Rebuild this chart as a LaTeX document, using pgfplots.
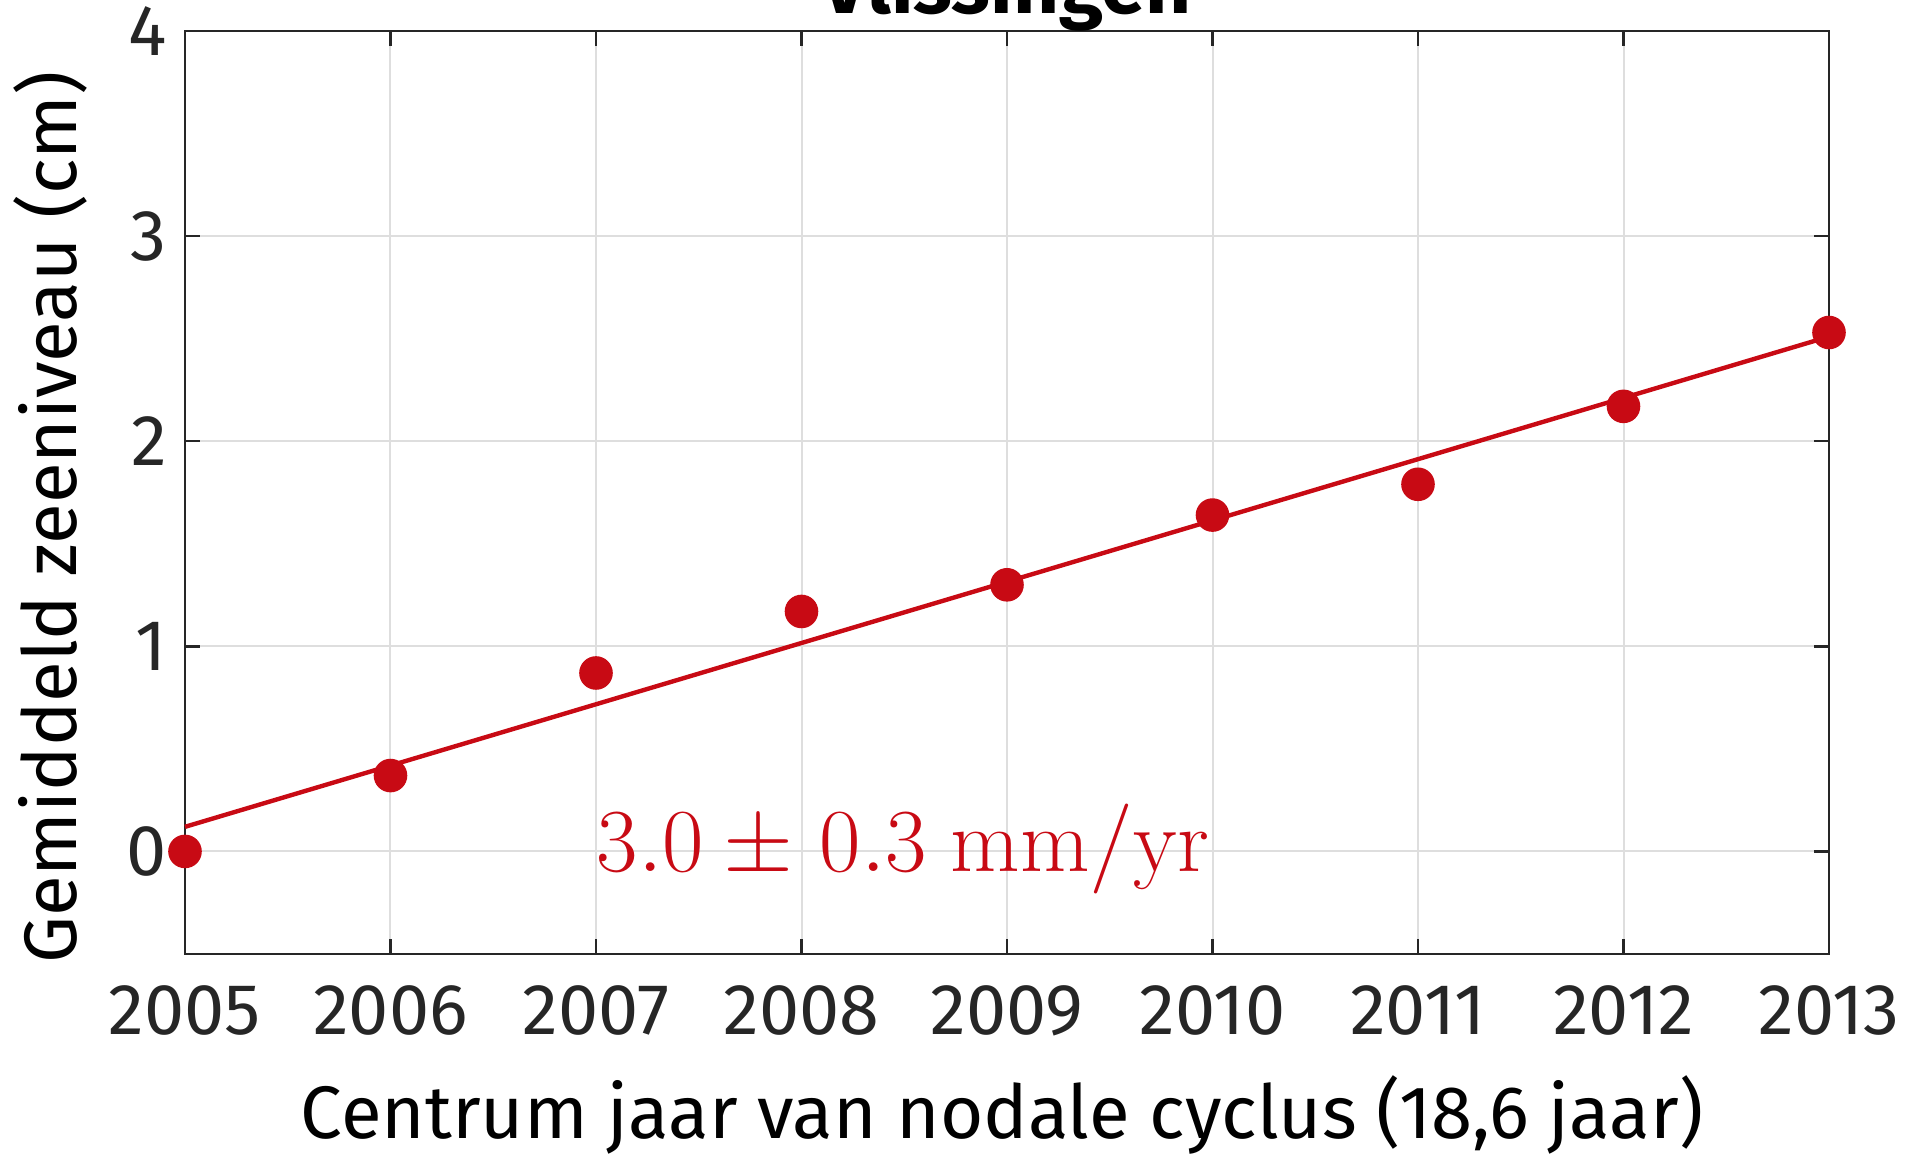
\RequirePackage{fix-cm}
\documentclass[border=0pt]{standalone}
\usepackage[no-math]{fontspec}
\setmainfont{Fira Sans}
\usepackage{pgfplots}
\pgfplotsset{compat=1.18}
\usetikzlibrary{calc}
\definecolor{myred}{HTML}{C80A14}
\definecolor{axgray}{HTML}{262626}
\begin{document}
\begin{tikzpicture}
\begin{axis}[
  scale only axis, width=411pt, height=230.75pt,
  xmin=2005, xmax=2013, ymin=-0.5, ymax=4,
  xtick={2005,2006,2007,2008,2009,2010,2011,2012,2013},
  ytick={0,1,2,3,4},
  /pgf/number format/.cd, 1000 sep={}, assume math mode=true, /pgfplots/.cd,
  grid=major, major grid style={color=black!13, line width=0.5pt},
  tick align=inside, major tick length=3.7pt,
  axis line style={axgray, line width=0.6pt},
  tick style={axgray, line width=0.6pt},
  ticklabel style={font=\fontsize{18}{21}\selectfont, text=axgray},
  xticklabel style={anchor=base, yshift=-20.25pt},
  yticklabel style={xshift=-1pt},
  xlabel={Centrum jaar van nodale cyclus (18,6 jaar)},
  ylabel={Gemiddeld zeeniveau (cm)},
  label style={font=\fontsize{18.6}{22}\selectfont, text=black},
  xlabel style={at={(axis description cs:0.497,-0.2004)}, anchor=base},
  ylabel style={at={(axis description cs:-0.0657,0.473)}, anchor=base},
  clip=false,
]
\addplot[myred, line width=1.1pt] coordinates {(2005,0.12) (2013,2.51)};
\addplot[only marks, mark=*, mark size=4pt, color=myred, mark options={fill=myred, draw=myred}] coordinates {
  (2005,0.00) (2006,0.37) (2007,0.87) (2008,1.17) (2009,1.30)
  (2010,1.64) (2011,1.79) (2012,2.17) (2013,2.53)
};
\node[anchor=base west, text=myred, font=\fontsize{22.5}{27}\selectfont, inner sep=0pt] at (axis cs:2007,-0.1) {$3.0 \pm\hspace{1.5pt} 0.3~\mathrm{mm/yr}$};
\node[anchor=base, font=\fontsize{20}{24}\selectfont\bfseries, inner sep=0pt, yshift=4.5pt] at (axis description cs:0.5,1) {Vlissingen};
\end{axis}
\pgfresetboundingbox
\path[use as bounding box] ($(current axis.south west)+(-46.25pt,-50.75pt)$) rectangle ($(current axis.north east)+(23pt,7.75pt)$);
\end{tikzpicture}
\end{document}
